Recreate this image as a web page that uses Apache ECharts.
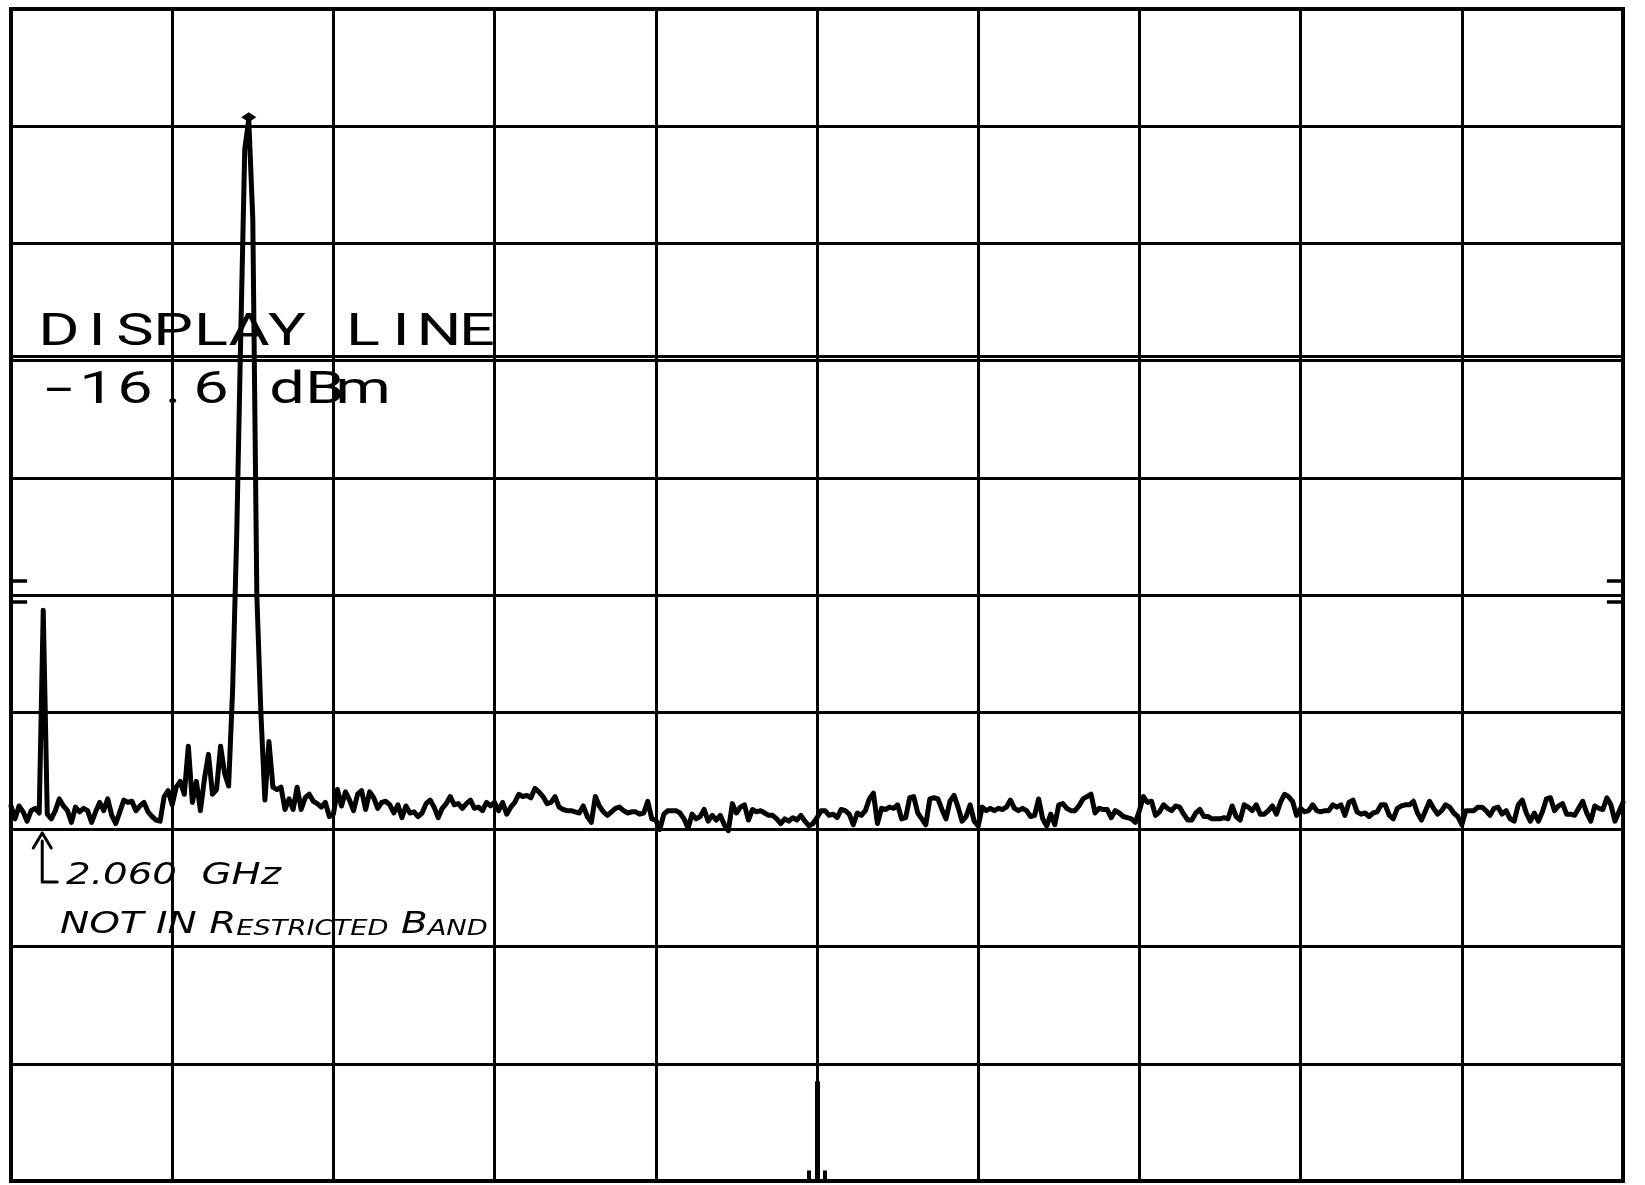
<!DOCTYPE html>
<html><head><meta charset="utf-8">
<script src="https://cdn.jsdelivr.net/npm/echarts@6/dist/echarts.min.js"></script>
<style>html,body{margin:0;padding:0;background:#fff}#c{width:1645px;height:1185px}</style>
</head><body><div id="c"></div>
<script>
// Sweep settings (spectrum analyser plot, 10 divisions each way)
const START_GHZ = 2.0;
const STOP_GHZ = 5.0;
const REF_LEVEL_DBM = 13.0;          // top graticule line
const DISPLAY_LINE_DBM = -16.6;
const SPIKE_GHZ = 2.060;
const LABEL_LINES = ['DISPLAY LINE', '-16.6 dBm'];
const NOTE_FREQ = '2.060  GHz';
const NOTE_BAND = ['NOT IN R', 'ESTRICTED', ' B', 'AND'];
const EDGE_MARKS_DB = [-48.8, -50.6]; // small "=" marks on both sides (dB below ref)

// trace level, dB relative to reference level, 401 sweep points
const LEVEL_DB = [
-68.0,-69.1,-68.0,-68.5,-69.3,-68.4,-68.2,-68.6,-51.3,-68.7,
-69.1,-68.4,-67.4,-68.0,-68.4,-69.4,-68.1,-68.5,-68.2,-68.4,
-69.4,-68.5,-67.7,-68.4,-67.4,-68.8,-69.5,-68.5,-67.5,-67.7,
-67.6,-68.4,-68.0,-67.7,-68.5,-68.9,-69.2,-69.3,-67.2,-66.7,
-67.9,-66.4,-65.9,-67.0,-62.9,-67.7,-65.9,-68.4,-65.7,-63.6,
-67.0,-66.6,-62.9,-65.2,-66.3,-58.0,-45.0,-28.0,-12.0,-9.4,
-18.0,-50.0,-60.0,-67.5,-62.5,-66.4,-66.6,-66.4,-68.3,-67.4,
-68.3,-66.4,-68.3,-67.3,-67.0,-67.6,-67.8,-68.1,-67.7,-68.9,
-68.7,-66.6,-68.0,-66.8,-67.5,-68.4,-67.0,-66.7,-68.3,-66.8,
-67.3,-68.2,-67.7,-67.6,-67.9,-68.6,-67.9,-69.0,-68.0,-68.6,
-68.5,-68.9,-68.6,-67.8,-67.5,-68.1,-69.0,-68.2,-67.8,-67.2,
-67.9,-67.8,-68.2,-67.8,-67.5,-68.2,-68.1,-68.4,-67.7,-68.0,
-67.7,-68.4,-67.7,-68.7,-68.1,-67.7,-67.0,-67.2,-67.1,-67.3,
-66.5,-66.8,-67.2,-67.8,-67.7,-67.2,-68.1,-68.3,-68.4,-68.4,
-68.5,-68.6,-68.0,-68.9,-69.4,-67.2,-68.0,-68.5,-68.8,-68.5,
-68.2,-68.1,-68.4,-68.6,-68.5,-68.5,-68.7,-68.6,-67.6,-69.1,
-69.2,-70.0,-68.7,-68.4,-68.4,-68.4,-68.6,-69.1,-69.9,-68.7,
-69.1,-68.9,-68.3,-69.3,-68.8,-69.2,-68.8,-69.6,-70.1,-67.8,
-68.6,-68.1,-67.9,-69.2,-68.3,-68.5,-68.4,-68.6,-68.8,-68.8,
-69.1,-69.5,-69.1,-69.3,-69.0,-69.2,-68.8,-69.3,-69.7,-69.5,
-69.0,-68.4,-68.4,-68.8,-68.7,-69.0,-68.3,-68.4,-68.7,-69.6,
-68.6,-68.8,-68.4,-67.4,-66.9,-69.5,-68.2,-68.3,-68.1,-68.2,
-67.9,-69.1,-69.0,-67.3,-67.2,-68.6,-69.1,-69.6,-67.4,-67.3,
-67.4,-68.3,-69.1,-67.6,-67.1,-68.1,-69.3,-68.9,-67.9,-69.3,
-69.7,-68.1,-68.4,-68.2,-68.4,-68.2,-68.3,-68.1,-67.5,-68.2,
-68.4,-68.2,-68.4,-68.9,-68.8,-67.4,-69.1,-69.7,-68.7,-69.6,
-67.9,-67.8,-68.2,-68.4,-68.4,-68.0,-67.4,-67.2,-67.0,-68.6,
-68.2,-68.3,-68.3,-69.0,-68.4,-68.6,-68.9,-69.0,-69.1,-69.4,
-68.4,-67.2,-67.7,-67.6,-68.8,-68.5,-67.9,-68.2,-68.4,-68.0,
-68.1,-68.7,-69.2,-69.2,-68.6,-68.3,-68.9,-68.9,-69.1,-69.1,
-69.1,-69.0,-69.1,-68.0,-68.9,-69.2,-67.9,-68.1,-68.4,-67.9,
-68.7,-68.7,-68.4,-68.0,-68.7,-67.7,-67.0,-67.2,-67.6,-68.8,
-68.2,-68.5,-68.4,-67.9,-68.4,-68.5,-68.4,-68.4,-67.9,-68.1,
-67.9,-68.8,-67.7,-67.5,-68.5,-68.7,-68.6,-68.9,-68.6,-68.5,
-67.9,-67.9,-68.8,-69.1,-68.2,-68.0,-67.9,-67.9,-67.6,-68.6,
-69.2,-68.4,-67.6,-68.2,-68.7,-68.4,-67.9,-68.1,-68.6,-68.9,
-69.6,-68.4,-68.4,-68.4,-68.1,-68.1,-68.4,-68.8,-68.2,-68.1,
-68.7,-68.4,-69.1,-69.3,-67.9,-67.5,-68.6,-69.3,-68.6,-69.3,
-68.5,-67.4,-67.3,-68.4,-68.0,-67.8,-68.7,-68.7,-68.8,-68.2,
-67.6,-68.6,-69.3,-68.0,-68.2,-68.3,-67.3,-67.9,-69.3,-68.5,
-67.7
];

const N = LEVEL_DB.length;
const STEP = (STOP_GHZ - START_GHZ) / (N - 1);
const FREQ = LEVEL_DB.map((_, i) => (START_GHZ + i * STEP).toFixed(4));
const PER_DIV = (N - 1) / 10;
const CENTER = (N - 1) / 2;
const SPIKE_IDX = Math.round((SPIKE_GHZ - START_GHZ) / STEP);
let PEAK_IDX = 0;
LEVEL_DB.forEach((v, i) => { if (v > LEVEL_DB[PEAK_IDX]) PEAK_IDX = i; });

const BLACK = '#000';
const solid = (w) => ({ color: BLACK, width: w, type: 'solid' });

const chart = echarts.init(document.getElementById('c'), null, { renderer: 'canvas' });

const option = {
  animation: false,
  backgroundColor: '#fff',
  grid: { left: 11, right: 22, top: 9, bottom: 4, show: true, borderColor: BLACK, borderWidth: 4 },
  xAxis: {
    type: 'category', data: FREQ, boundaryGap: false,
    axisLine: { show: false },
    axisTick: { show: false, interval: PER_DIV - 1 },
    axisLabel: { show: false, interval: PER_DIV - 1 },
    splitLine: { show: true, interval: PER_DIV - 1, lineStyle: solid(3) }
  },
  yAxis: {
    type: 'value', min: -100, max: 0, interval: 10,
    axisLine: { show: false }, axisTick: { show: false }, axisLabel: { show: false },
    splitLine: { show: true, lineStyle: solid(3) }
  },
  series: [{
    type: 'line', data: LEVEL_DB, symbol: 'none', z: 5,
    lineStyle: { color: BLACK, width: 5, cap: 'round', join: 'round' },
    markPoint: {
      symbol: 'diamond', symbolSize: [15, 10], symbolOffset: [0, -2],
      itemStyle: { color: BLACK }, label: { show: false }, silent: true,
      data: [{ coord: [FREQ[PEAK_IDX], LEVEL_DB[PEAK_IDX]] }]
    },
    markLine: {
      symbol: ['none', 'none'], silent: true, label: { show: false },
      lineStyle: solid(3),
      data: [
        { yAxis: DISPLAY_LINE_DBM - REF_LEVEL_DBM, lineStyle: solid(3) },
        ...EDGE_MARKS_DB.map(v => [{ coord: [FREQ[0], v], lineStyle: solid(3.5) }, { coord: [FREQ[4], v] }]),
        ...EDGE_MARKS_DB.map(v => [{ coord: [FREQ[N - 5], v], lineStyle: solid(3.5) }, { coord: [FREQ[N - 1], v] }]),
        [{ coord: [FREQ[CENTER], -91.5], lineStyle: solid(5) }, { coord: [FREQ[CENTER], -100] }],
        [{ coord: [FREQ[CENTER - 2], -99.1], lineStyle: solid(4) }, { coord: [FREQ[CENTER - 2], -100] }],
        [{ coord: [FREQ[CENTER + 2], -99.1], lineStyle: solid(4) }, { coord: [FREQ[CENTER + 2], -100] }]
      ]
    }
  }]
};
chart.setOption(option);

// ---- annotations ----
const px = (i, v) => chart.convertToPixel({ xAxisIndex: 0, yAxisIndex: 0 }, [i, v]);
const graphics = [];

// plotter-style label, fixed character cells
const CELL = 38, X0 = 40;
const ROW_Y = [334, 392];
LABEL_LINES.forEach((line, r) => {
  [...line].forEach((ch, k) => {
    if (ch === ' ') return;
    graphics.push({
      type: 'text', z: 100, silent: true,
      x: X0 + (k + 0.5) * CELL, y: ROW_Y[r],
      scaleX: ch === '-' ? 2.2 : 1.4,
      style: {
        text: ch, fill: BLACK, align: 'center', verticalAlign: 'middle',
        fontFamily: 'Roboto', fontWeight: 400, fontSize: 45
      }
    });
  });
});

// handwritten note with arrow to the 2.060 GHz spike
const tip = px(SPIKE_IDX, -70.3);
const ax = tip[0] - 1;
const line = (pts, w) => ({ type: 'polyline', z: 100, silent: true,
  shape: { points: pts }, style: { stroke: BLACK, lineWidth: w, fill: null, lineCap: 'round', lineJoin: 'round' } });
graphics.push(line([[ax, tip[1] + 8], [ax, 882], [ax + 15, 882]], 3));
graphics.push(line([[ax - 9, tip[1] + 15], [ax, tip[1]], [ax + 9, tip[1] + 15]], 3));

graphics.push({
  type: 'text', z: 100, silent: true, x: 66, y: 876, scaleX: 1.25,
  style: { text: NOTE_FREQ, fill: BLACK, verticalAlign: 'middle', align: 'left',
    fontFamily: 'DejaVu Sans', fontStyle: 'italic', fontSize: 31 }
});
graphics.push({
  type: 'text', z: 100, silent: true, x: 60, y: 940, scaleX: 1.3,
  style: {
    text: `{b|${NOTE_BAND[0]}}{s|${NOTE_BAND[1]}}{b|${NOTE_BAND[2]}}{s|${NOTE_BAND[3]}}`,
    fill: BLACK, verticalAlign: 'bottom', align: 'left',
    rich: {
      b: { fontFamily: 'DejaVu Sans', fontStyle: 'italic', fontSize: 30, lineHeight: 34, verticalAlign: 'bottom', fill: BLACK },
      s: { fontFamily: 'DejaVu Sans', fontStyle: 'italic', fontSize: 21, lineHeight: 34, verticalAlign: 'bottom', fill: BLACK }
    }
  }
});

chart.setOption({ graphic: { elements: graphics } });
</script>
</body></html>
